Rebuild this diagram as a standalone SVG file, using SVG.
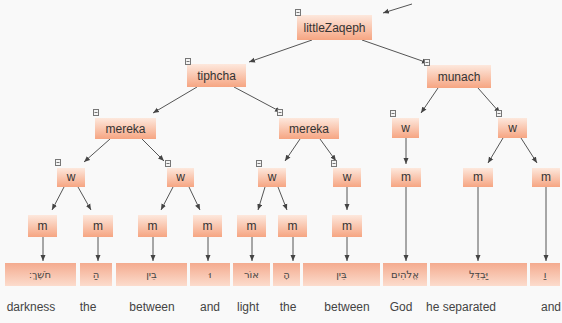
<svg xmlns="http://www.w3.org/2000/svg" width="562" height="323" viewBox="0 0 562 323">
<defs>
<linearGradient id="gN" x1="0" y1="0" x2="0" y2="1">
<stop offset="0" stop-color="#fde8dd"/>
<stop offset="1" stop-color="#f6a582"/>
</linearGradient>
<linearGradient id="gH" x1="0" y1="0" x2="0" y2="1">
<stop offset="0" stop-color="#f4ab8f"/>
<stop offset="1" stop-color="#fcdccd"/>
</linearGradient>
<marker id="ah" markerUnits="userSpaceOnUse" markerWidth="6" markerHeight="6" refX="6" refY="3" orient="auto">
<path d="M0,0.5 L6,3 L0,5.5 z" fill="#444"/>
</marker>
<g id="tog"><rect x="0.5" y="0.5" width="5" height="6" fill="#f4f4f4" stroke="#777" stroke-width="1"/><line x1="1.5" y1="3.5" x2="4.5" y2="3.5" stroke="#777" stroke-width="1"/></g>
</defs>
<style>
.n{fill:url(#gN);}
.h{fill:url(#gH);}
.t{font-family:"Liberation Sans",Arial,sans-serif;font-size:12px;fill:#333;text-anchor:middle;}
.he{font-family:"DejaVu Sans","Liberation Sans",sans-serif;font-size:10px;fill:#444;text-anchor:middle;}
.w{font-family:"Liberation Sans",Arial,sans-serif;font-size:12px;fill:#444;text-anchor:middle;}
.c line{stroke:#555;stroke-width:1;marker-end:url(#ah);}
</style>
<rect width="562" height="323" fill="#f9f9f9"/>
<g class="c" id="connectors">
<line x1="412" y1="4" x2="383" y2="13"/>
<line x1="312" y1="40" x2="249" y2="62"/>
<line x1="362" y1="40" x2="428" y2="63"/>
<line x1="197" y1="87" x2="153" y2="113"/>
<line x1="234" y1="87" x2="281" y2="112"/>
<line x1="438" y1="88" x2="421" y2="113"/>
<line x1="478" y1="88" x2="500" y2="113"/>
<line x1="110" y1="139" x2="84" y2="162"/>
<line x1="142" y1="139" x2="164" y2="161"/>
<line x1="300" y1="139" x2="285" y2="161"/>
<line x1="320" y1="139" x2="336" y2="161"/>
<line x1="406" y1="138" x2="406" y2="164"/>
<line x1="503" y1="138" x2="488" y2="163"/>
<line x1="521" y1="138" x2="537" y2="163"/>
<line x1="64" y1="187" x2="52" y2="210"/>
<line x1="78" y1="187" x2="91" y2="210"/>
<line x1="173" y1="187" x2="161" y2="210"/>
<line x1="189" y1="187" x2="200" y2="210"/>
<line x1="265" y1="187" x2="258" y2="210"/>
<line x1="278" y1="187" x2="287" y2="210"/>
<line x1="347" y1="187" x2="347" y2="210"/>
<line x1="43" y1="237" x2="43" y2="261"/>
<line x1="98" y1="237" x2="98" y2="261"/>
<line x1="153" y1="237" x2="153" y2="261"/>
<line x1="208" y1="237" x2="208" y2="261"/>
<line x1="252" y1="237" x2="252" y2="261"/>
<line x1="293" y1="237" x2="293" y2="261"/>
<line x1="347" y1="237" x2="347" y2="261"/>
<line x1="406" y1="187" x2="406" y2="261"/>
<line x1="478" y1="187" x2="478" y2="261"/>
<line x1="546" y1="187" x2="546" y2="261"/>
</g>
<g id="littleZaqeph"><rect class="n" x="297" y="15" width="75" height="25"/><use href="#tog" x="295" y="9"/><text class="t" x="334.5" y="32">littleZaqeph</text></g>
<g id="tiphcha"><rect class="n" x="187" y="64" width="59" height="23"/><use href="#tog" x="185" y="58"/><text class="t" x="216.5" y="80">tiphcha</text></g>
<g id="munach"><rect class="n" x="427" y="65" width="64" height="23"/><use href="#tog" x="424" y="59"/><text class="t" x="459" y="81">munach</text></g>
<g id="merekaL"><rect class="n" x="95" y="118" width="61" height="21"/><use href="#tog" x="93" y="109"/><text class="t" x="125.5" y="133">mereka</text></g>
<g id="merekaR"><rect class="n" x="279" y="118" width="60" height="21"/><use href="#tog" x="277" y="109"/><text class="t" x="309" y="133">mereka</text></g>
<g id="wM1"><rect class="n" x="392" y="118" width="27" height="20"/><use href="#tog" x="390" y="110"/><text class="t" x="405.5" y="132">w</text></g>
<g id="wM2"><rect class="n" x="498" y="118" width="29" height="20"/><use href="#tog" x="496" y="110"/><text class="t" x="512.5" y="132">w</text></g>
<g id="w1"><rect class="n" x="57" y="168" width="28" height="19"/><use href="#tog" x="55" y="159"/><text class="t" x="71" y="181">w</text></g>
<g id="w2"><rect class="n" x="167" y="168" width="27" height="19"/><use href="#tog" x="165" y="160"/><text class="t" x="180.5" y="181">w</text></g>
<g id="w3"><rect class="n" x="258" y="168" width="28" height="19"/><use href="#tog" x="256" y="160"/><text class="t" x="272" y="181">w</text></g>
<g id="w4"><rect class="n" x="333" y="168" width="28" height="19"/><use href="#tog" x="331" y="160"/><text class="t" x="347" y="181">w</text></g>
<g id="mM1"><rect class="n" x="391" y="168" width="30" height="19"/><text class="t" x="406" y="181">m</text></g>
<g id="mM2"><rect class="n" x="463" y="168" width="30" height="19"/><text class="t" x="478" y="181">m</text></g>
<g id="mM3"><rect class="n" x="532" y="168" width="28" height="19"/><text class="t" x="546" y="181">m</text></g>
<g id="m1"><rect class="n" x="28" y="215" width="29" height="22"/><text class="t" x="42.5" y="230">m</text></g>
<g id="m2"><rect class="n" x="83" y="215" width="30" height="22"/><text class="t" x="98" y="230">m</text></g>
<g id="m3"><rect class="n" x="138" y="215" width="29" height="22"/><text class="t" x="152.5" y="230">m</text></g>
<g id="m4"><rect class="n" x="193" y="215" width="29" height="22"/><text class="t" x="207.5" y="230">m</text></g>
<g id="m5"><rect class="n" x="237" y="215" width="29" height="22"/><text class="t" x="251.5" y="230">m</text></g>
<g id="m6"><rect class="n" x="278" y="215" width="29" height="22"/><text class="t" x="292.5" y="230">m</text></g>
<g id="m7"><rect class="n" x="332" y="215" width="30" height="22"/><text class="t" x="347" y="230">m</text></g>
<g id="h1"><rect class="h" x="5" y="263" width="71" height="23"/><text class="he" x="40" y="278">חֹשֶׁךְ׃</text></g>
<g id="h2"><rect class="h" x="80" y="263" width="32" height="23"/><text class="he" x="96" y="278">הַ</text></g>
<g id="h3"><rect class="h" x="116" y="263" width="71" height="23"/><text class="he" x="151.5" y="278">בֵין</text></g>
<g id="h4"><rect class="h" x="190" y="263" width="40" height="23"/><text class="he" x="210" y="278">וּ</text></g>
<g id="h5"><rect class="h" x="233" y="263" width="37" height="23"/><text class="he" x="251.5" y="278">אוֹר</text></g>
<g id="h6"><rect class="h" x="273" y="263" width="27" height="23"/><text class="he" x="286.5" y="278">הָ</text></g>
<g id="h7"><rect class="h" x="303" y="263" width="77" height="23"/><text class="he" x="341.5" y="278">בֵּין</text></g>
<g id="h8"><rect class="h" x="383" y="263" width="44" height="23"/><text class="he" x="405" y="278">אֱלֹהִים</text></g>
<g id="h9"><rect class="h" x="430" y="263" width="97" height="23"/><text class="he" x="478.5" y="278">יַּבְדֵּל</text></g>
<g id="h10"><rect class="h" x="530" y="263" width="30" height="23"/><text class="he" x="545" y="278">וַ</text></g>
<g id="words">
<text class="w" x="31" y="311">darkness</text>
<text class="w" x="88" y="311">the</text>
<text class="w" x="152" y="311">between</text>
<text class="w" x="210" y="311">and</text>
<text class="w" x="248" y="311">light</text>
<text class="w" x="288" y="311">the</text>
<text class="w" x="347" y="311">between</text>
<text class="w" x="401" y="311">God</text>
<text class="w" x="461" y="311">he separated</text>
<text class="w" x="551" y="311">and</text>
</g>
</svg>
